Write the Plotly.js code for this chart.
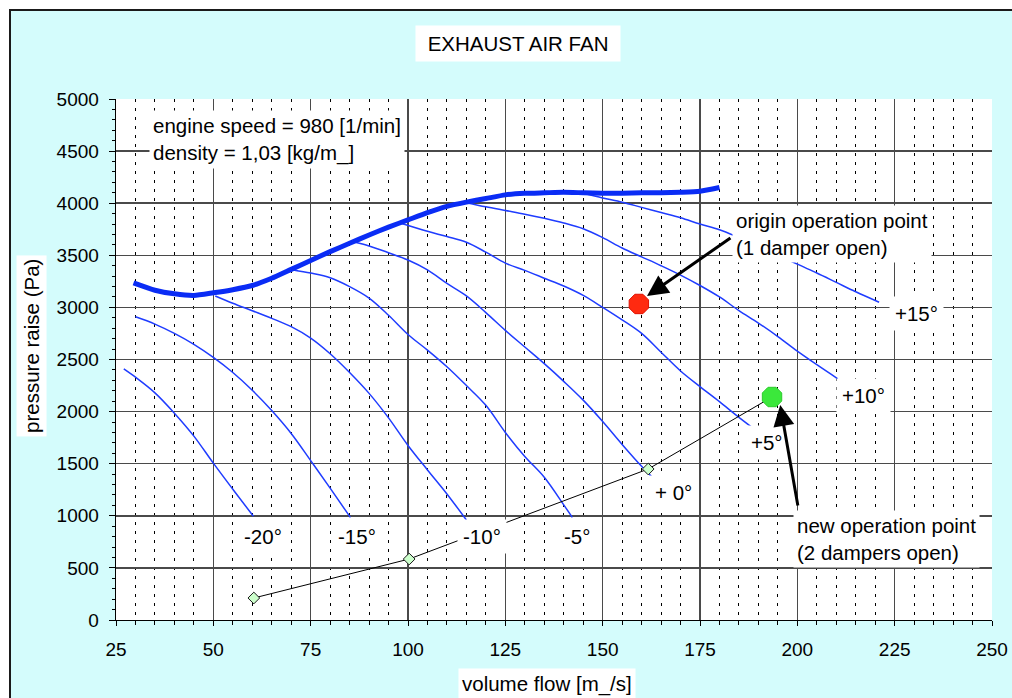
<!DOCTYPE html>
<html><head><meta charset="utf-8">
<script src="https://cdn.plot.ly/plotly-3.0.1.min.js"></script>
<style>
html,body{margin:0;padding:0;background:#fff;width:1012px;height:698px;overflow:hidden;}
#frame{position:absolute;left:9px;top:9px;width:1001px;height:687px;border-left:2px solid #1a1a1a;border-top:2px solid #1a1a1a;background:#d4fcfc;}
#chart{position:absolute;left:0;top:0;width:1001px;height:687px;}
</style></head>
<body><div id="frame"><div id="chart"></div></div>
<script>
// ---- data ----
const envFlow = [29.5,35,40,45,50,55,60,65,70,75,80,85,90,95,100,105,110,115,120,125,130,135,140,145,150,155,160,165,170,175,180];
const envPres = [3235,3165,3130,3115,3140,3170,3210,3280,3365,3450,3535,3615,3695,3770,3840,3910,3970,4010,4045,4080,4095,4100,4105,4100,4095,4095,4100,4100,4105,4115,4150];

const m20Flow = [27,30,35,40,45,50,55,60.3];
const m20Pres = [2410,2330,2180,1985,1765,1505,1255,995];
const m15Flow = [30,35,40,45,50,55,60,65,70,75,80,85.2];
const m15Pres = [2910,2840,2750,2645,2520,2375,2205,2010,1790,1530,1265,985];
const m10Flow = [50.5,55,60,65,70,75,80,85,90,95,100,105,110,115];
const m10Pres = [3110,3040,2968,2895,2815,2705,2555,2375,2175,1940,1675,1440,1210,960];
const m5Flow  = [70.5,75,80,85,90,95,100,105,110,115,120,125,130,135,140,142.2];
const m5Pres  = [3360,3330,3285,3200,3090,2925,2740,2590,2430,2250,2060,1800,1570,1370,1105,985];
const p0Flow  = [86,90,95,100,105,110,115,120,125,130,135,140,145,150,155,160,163.4];
const p0Pres  = [3630,3590,3525,3455,3360,3230,3110,2950,2780,2620,2460,2290,2110,1905,1685,1475,1345];
const p5Flow  = [98.4,105,110,115,120,125,130,135,140,145,150,155,160,165,170,175,180,185,188.5];
const p5Pres  = [3805,3730,3680,3625,3530,3425,3355,3280,3205,3115,3000,2880,2750,2570,2390,2240,2095,1945,1845];
const p10Flow = [115,120,125,130,135,140,145,150,155,160,165,170,175,180,185,190,195,200,205,210.4];
const p10Pres = [4005,3965,3930,3895,3855,3810,3755,3670,3570,3485,3400,3310,3210,3100,2970,2850,2720,2580,2450,2315];
const p15Flow = [145,150,155,160,165,170,175,180,185,190,195,200,205,210,215,221];
const p15Pres = [4095,4050,4010,3960,3910,3860,3800,3745,3670,3590,3505,3415,3330,3240,3150,3050];

const sysFlow = [60.4,100.3,161.7,193.5];
const sysPres = [211,585,1449,2140];

const originFlow = [159.3], originPres = [3033];
const newFlow = [193.5], newPres = [2140];

const angleLabels = ['-20°','-15°','-10°','-5°','+ 0°','+5°','+10°','+15°'];
const angleLabelX = [62.8,86.9,119,143.4,168.1,192.2,217.1,230.5];
const angleLabelY = [806,806,806,806,1228,1699,2150,2946];

const xTitle = 'volume flow [m_/s]';
const yTitle = 'pressure raise (Pa)';
const chartTitle = 'EXHAUST AIR FAN';
const infoText = 'engine speed = 980 [1/min]<br>density = 1,03 [kg/m_]';
const originText = 'origin operation point<br>(1 damper open)';
const newText = 'new operation point<br>(2 dampers open)';

// ---- traces ----
const FONT = 'Liberation Sans, Arial, sans-serif';
const thin = {color:'#1f3cff', width:1.5, shape:'spline', smoothing:1};
const curves = [[m20Flow,m20Pres],[m15Flow,m15Pres],[m10Flow,m10Pres],[m5Flow,m5Pres],
                [p0Flow,p0Pres],[p5Flow,p5Pres],[p10Flow,p10Pres],[p15Flow,p15Pres]];
const traces = curves.map(c => ({x:c[0], y:c[1], type:'scatter', mode:'lines', line:thin, hoverinfo:'skip'}));
traces.push({x:envFlow, y:envPres, type:'scatter', mode:'lines', line:{color:'#0a2cf5', width:5, shape:'spline', smoothing:0.6}});
traces.push({x:sysFlow, y:sysPres, type:'scatter', mode:'lines', line:{color:'#000', width:1}});
traces.push({x:sysFlow.slice(0,3), y:sysPres.slice(0,3), type:'scatter', mode:'markers',
  marker:{symbol:'diamond', size:9, color:'#ccffcc', line:{color:'#1a1a1a', width:1}}});
traces.push({x:originFlow, y:originPres, type:'scatter', mode:'markers',
  marker:{symbol:'octagon', size:21, color:'#ff2a10', line:{color:'#e01000', width:1}}});
traces.push({x:newFlow, y:newPres, type:'scatter', mode:'markers',
  marker:{symbol:'octagon', size:21, color:'#3be83b', line:{color:'#2ccc2c', width:1}}});

// ---- annotations ----
const af = {family:FONT, size:20.5, color:'#000'};
const ann = [];
ann.push({text:'\u00a0' + chartTitle + '\u00a0', xref:'paper', yref:'paper', x:0.459, y:1.1056, xanchor:'center', yanchor:'middle',
  showarrow:false, font:af, bgcolor:'#fff', borderpad:6});
ann.push({text:infoText, xref:'x', yref:'y', x:33.5, y:4607, xanchor:'left', yanchor:'middle', align:'left',
  showarrow:false, font:af, bgcolor:'#fff', borderpad:3});
ann.push({text:originText, xref:'x', yref:'y', x:183.2, y:3704, xanchor:'left', yanchor:'middle', align:'left',
  showarrow:false, font:af, bgcolor:'#fff', borderpad:3});
ann.push({text:newText, xref:'x', yref:'y', x:198.9, y:782, xanchor:'left', yanchor:'middle', align:'left',
  showarrow:false, font:af, bgcolor:'#fff', borderpad:3});
angleLabels.forEach((t,i) => ann.push({text:t, xref:'x', yref:'y', x:angleLabelX[i], y:angleLabelY[i],
  xanchor:'center', yanchor:'middle', showarrow:false, font:af, bgcolor:'#fff', borderpad:5}));
ann.push({text:'', xref:'x', yref:'y', x:161.4, y:3109, axref:'x', ayref:'y', ax:183.2, ay:3676,
  showarrow:true, arrowhead:2, arrowsize:1.4, arrowwidth:3, arrowcolor:'#000', standoff:0});
ann.push({text:'', xref:'x', yref:'y', x:195.6, y:2063, axref:'x', ayref:'y', ax:200.2, ay:1084,
  showarrow:true, arrowhead:2, arrowsize:1.4, arrowwidth:3, arrowcolor:'#000', standoff:0});
ann.push({text:yTitle, xref:'paper', yref:'paper', x:-0.0959, y:0.526, textangle:-90, xanchor:'center', yanchor:'middle',
  showarrow:false, font:af, bgcolor:'#fff', borderpad:3});
ann.push({text:xTitle, xref:'paper', yref:'paper', x:0.492, y:-0.1228, xanchor:'center', yanchor:'middle',
  showarrow:false, font:af, bgcolor:'#fff', borderpad:3});

const tf = {family:FONT, size:19, color:'#000'};
const layout = {
  width:1001, height:687,
  margin:{l:105, r:20, t:88, b:78, pad:0},
  paper_bgcolor:'#d4fcfc', plot_bgcolor:'#ffffff',
  showlegend:false,
  font:{family:FONT, color:'#000'},
  xaxis:{range:[25,250], tick0:25, dtick:25, showgrid:true, gridcolor:'#4a4a4a', gridwidth:1.5,
    showline:true, linecolor:'#000', linewidth:1.3, ticks:'outside', ticklen:5, tickcolor:'#000',
    tickfont:tf, zeroline:false, ticklabelstandoff:7,
    minor:{dtick:5, showgrid:true, gridcolor:'#000', gridwidth:1, griddash:'3px,6px', ticks:'outside', ticklen:4, tickcolor:'#000'}},
  yaxis:{range:[0,5000], tick0:0, dtick:500, showgrid:true, gridcolor:'#4a4a4a', gridwidth:1.5,
    showline:true, linecolor:'#000', linewidth:1.3, ticks:'outside', ticklen:6, tickcolor:'#000',
    tickfont:tf, zeroline:false, ticklabelstandoff:6,
    minor:{dtick:100, ticks:'outside', ticklen:3, tickcolor:'#000', showgrid:false}},
  annotations:ann
};
Plotly.newPlot('chart', traces, layout, {displayModeBar:false, staticPlot:true});
</script>
</body></html>
